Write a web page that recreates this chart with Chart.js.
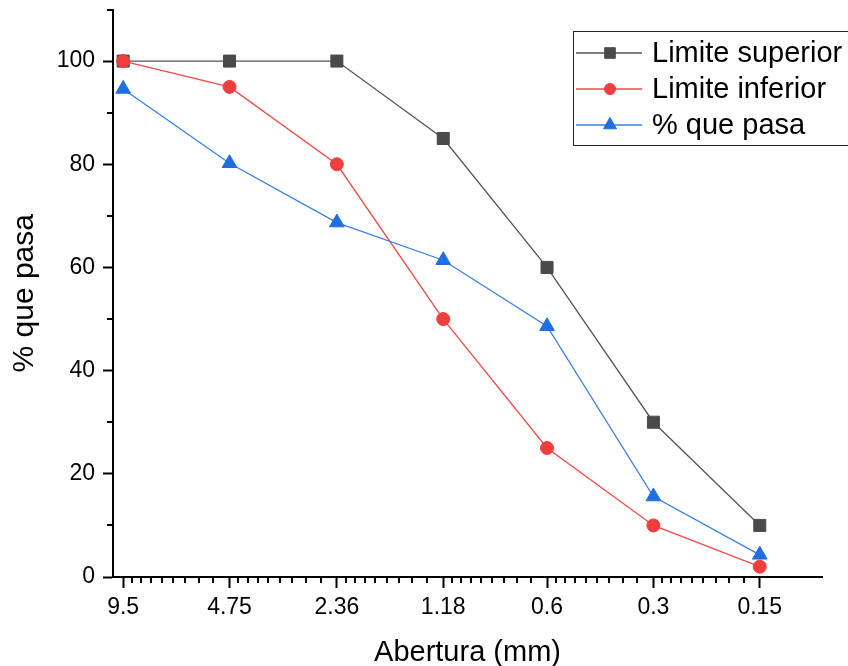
<!DOCTYPE html>
<html>
<head>
<meta charset="utf-8">
<script src="https://cdn.jsdelivr.net/npm/chart.js@4.4.0/dist/chart.umd.min.js"></script>
<style>
html, body { margin: 0; padding: 0; background: #fff; }
#wrap { width: 848px; height: 666px; }
</style>
</head>
<body>
<div id="wrap"><canvas id="chart" width="848" height="666"></canvas></div>
<script>
// Sieve openings (mm) and % passing for each curve
const aberturas = [9.5, 4.75, 2.36, 1.18, 0.6, 0.3, 0.15];
const limiteSuperior = [100, 100, 100, 85, 60, 30, 10];
const limiteInferior = [100, 95, 80, 50, 25, 10, 2];
const quePasa = [94.6, 80.2, 68.7, 61.4, 48.6, 15.6, 4.3];
const yTicks = [0, 20, 40, 60, 80, 100];
const yMinorTicks = [10, 30, 50, 70, 90, 110];

const FONT = '"Liberation Sans", Arial, sans-serif';
Chart.defaults.font.family = FONT;
Chart.defaults.color = '#000';

const series = [
    { label: 'Limite superior', data: limiteSuperior, line: '#555', mark: '#4a4a4a', style: 'rect', radius: 8.5 },
    { label: 'Limite inferior', data: limiteInferior, line: '#f04a4a', mark: '#ef3e3e', style: 'circle', radius: 6.5 },
    { label: '% que pasa', data: quePasa, line: '#3a80e6', mark: '#1f6fe0', style: 'triangle', radius: 8.5 },
];

function makeDataset(s, i) {
    return {
        label: s.label,
        data: aberturas.map((x, j) => ({ x, y: s.data[j] })),
        borderColor: s.line,
        borderWidth: 1.3,
        pointStyle: s.style,
        pointRadius: s.radius,
        pointBackgroundColor: s.mark,
        pointBorderColor: s.mark,
        pointBorderWidth: 1,
        order: 3 - i,
        tension: 0,
    };
}

// Minor tick marks on both axes (positions from the chart scales)
const minorTicks = {
    id: 'minorTicks',
    afterDraw(chart) {
        const { ctx, chartArea, scales } = chart;
        ctx.save();
        ctx.strokeStyle = '#000';
        ctx.lineWidth = 2;
        ctx.beginPath();
        for (let i = 0; i < aberturas.length - 1; i++) {
            const a = aberturas[i], b = aberturas[i + 1];
            for (let k = 1; k <= 8; k++) {
                const px = Math.round(scales.x.getPixelForValue(a - k * (a - b) / 9));
                ctx.moveTo(px, chartArea.bottom);
                ctx.lineTo(px, chartArea.bottom + 6);
            }
        }
        for (const v of yMinorTicks) {
            const py = Math.round(scales.y.getPixelForValue(v));
            ctx.moveTo(chartArea.left, py);
            ctx.lineTo(chartArea.left - 6, py);
        }
        ctx.stroke();
        ctx.restore();
    }
};

// Boxed legend with line + marker samples
const boxLegend = {
    id: 'boxLegend',
    afterDraw(chart) {
        const { ctx } = chart;
        const left = 573, top = 31, rowH = 36;
        ctx.save();
        ctx.fillStyle = '#fff';
        ctx.fillRect(left, top, 300, 114);
        ctx.strokeStyle = '#222';
        ctx.lineWidth = 1;
        ctx.strokeRect(left + 0.5, top + 0.5, 300, 114);
        ctx.font = '29px ' + FONT;
        ctx.textBaseline = 'middle';
        series.forEach((s, i) => {
            const cy = top + 22 + i * rowH;
            ctx.strokeStyle = s.line;
            ctx.lineWidth = 1.3;
            ctx.beginPath();
            ctx.moveTo(left + 3, cy);
            ctx.lineTo(left + 69, cy);
            ctx.stroke();
            ctx.fillStyle = s.mark;
            ctx.strokeStyle = s.mark;
            ctx.lineWidth = 1;
            Chart.helpers.drawPoint(ctx, { pointStyle: s.style, radius: s.radius - 1, rotation: 0, borderWidth: 1 }, left + 37, cy);
            ctx.fillStyle = '#000';
            ctx.fillText(s.label, left + 79, cy + 1);
        });
        ctx.restore();
    }
};

new Chart(document.getElementById('chart'), {
    type: 'line',
    data: { datasets: series.map(makeDataset) },
    options: {
        responsive: false,
        animation: false,
        layout: { padding: { top: 8, right: 26, left: 0, bottom: 0 } },
        plugins: { legend: { display: false }, tooltip: { enabled: false } },
        scales: {
            x: {
                type: 'logarithmic',
                reverse: true,
                min: 0.1,
                max: 10.15,
                afterBuildTicks: s => { s.ticks = aberturas.map(v => ({ value: v })); },
                afterFit: s => { s.height = 89; },
                grid: { drawOnChartArea: false, drawTicks: true, tickLength: 11, tickWidth: 2, tickColor: '#000' },
                border: { color: '#000', width: 2 },
                ticks: { autoSkip: false, maxRotation: 0, padding: 6, font: { size: 23 }, callback: v => String(v) },
                title: { display: true, text: 'Abertura (mm)', font: { size: 29 }, padding: { top: 0, bottom: -4 } },
            },
            y: {
                min: 0,
                max: 110,
                afterBuildTicks: s => { s.ticks = yTicks.map(v => ({ value: v })); },
                afterFit: s => { s.width = 113; s.paddingTop = 0; s.paddingBottom = 0; },
                grid: { drawOnChartArea: false, drawTicks: true, tickLength: 10, tickWidth: 2, tickColor: '#000' },
                border: { color: '#000', width: 2 },
                ticks: { padding: 8, font: { size: 23 } },
                title: { display: true, text: '% que pasa', font: { size: 30 }, padding: { top: 7, bottom: 0 } },
            },
        },
    },
    plugins: [minorTicks, boxLegend],
});
</script>
</body>
</html>
